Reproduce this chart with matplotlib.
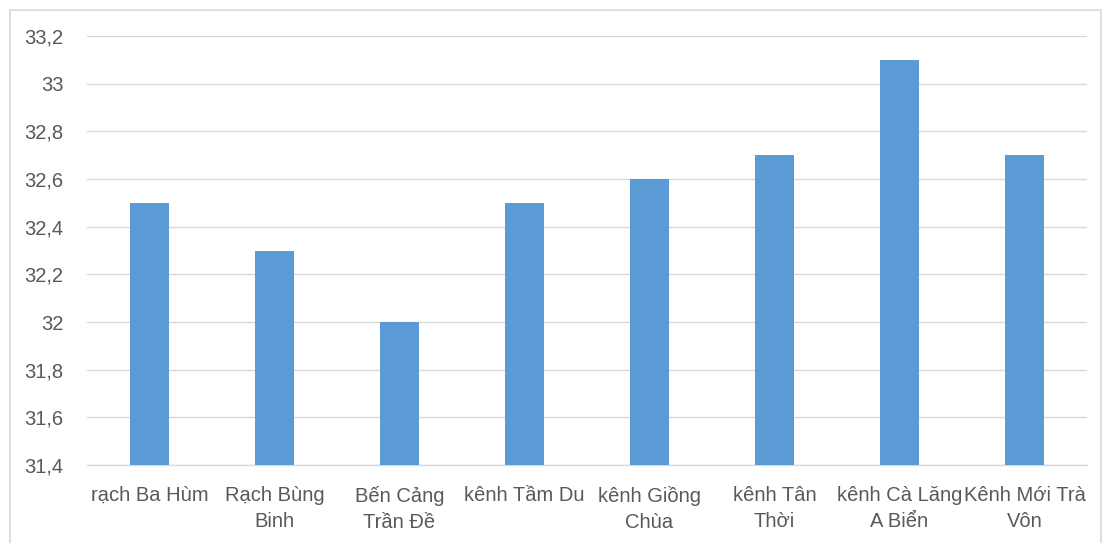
import matplotlib
matplotlib.use("Agg")
import matplotlib.pyplot as plt
from matplotlib.patches import Rectangle
from matplotlib.ticker import FixedLocator, FuncFormatter

categories = ["rạch Ba Hùm", "Rạch Bùng\nBinh", "Bến Cảng\nTrần Đề", "kênh Tầm Du",
              "kênh Giồng\nChùa", "kênh Tân\nThời", "kênh Cà Lăng\nA Biển", "Kênh Mới Trà\nVôn"]
values = [32.5, 32.3, 32.0, 32.5, 32.6, 32.7, 33.1, 32.7]
yticks = [31.4, 31.6, 31.8, 32.0, 32.2, 32.4, 32.6, 32.8, 33.0, 33.2]

plt.rcParams['font.family'] = ['Liberation Sans', 'DejaVu Sans']

W, H = 1102, 543
fig = plt.figure(figsize=(W / 100, H / 100), dpi=100)
ax = fig.add_axes([87 / W, 1 - 465 / H, 1000 / W, (465 - 36) / H])

x = list(range(len(categories)))
ax.bar(x, [v - 31.4 for v in values], bottom=31.4, width=0.31, color="#5B9BD5", zorder=3)
ax.set_xlim(-0.5, len(categories) - 0.5)
ax.set_ylim(31.4, 33.2)
ax.yaxis.set_major_locator(FixedLocator(yticks))

def fmt(v, pos):
    s = f"{v:.1f}"
    if s.endswith(".0"):
        s = s[:-2]
    return s.replace(".", ",")
ax.yaxis.set_major_formatter(FuncFormatter(fmt))
ax.set_xticks(x)
ax.set_xticklabels(categories, linespacing=1.5)

ax.grid(axis="y", color="#D9D9D9", linewidth=1.0, zorder=0)
for s in ["top", "right", "left"]:
    ax.spines[s].set_visible(False)
ax.spines["bottom"].set_color("#D9D9D9")
ax.spines["bottom"].set_linewidth(1.0)
ax.tick_params(axis="both", length=0, labelsize=14.5, labelcolor="#595959")
ax.tick_params(axis="y", pad=17)
ax.tick_params(axis="x", pad=15)

fig.patches.append(Rectangle((10 / W, -0.05), (W - 11) / W, 1 - 10 / H + 0.05,
                             transform=fig.transFigure, fill=False,
                             edgecolor="#D9D9D9", linewidth=1.2))

fig.savefig("out.png", dpi=100)
